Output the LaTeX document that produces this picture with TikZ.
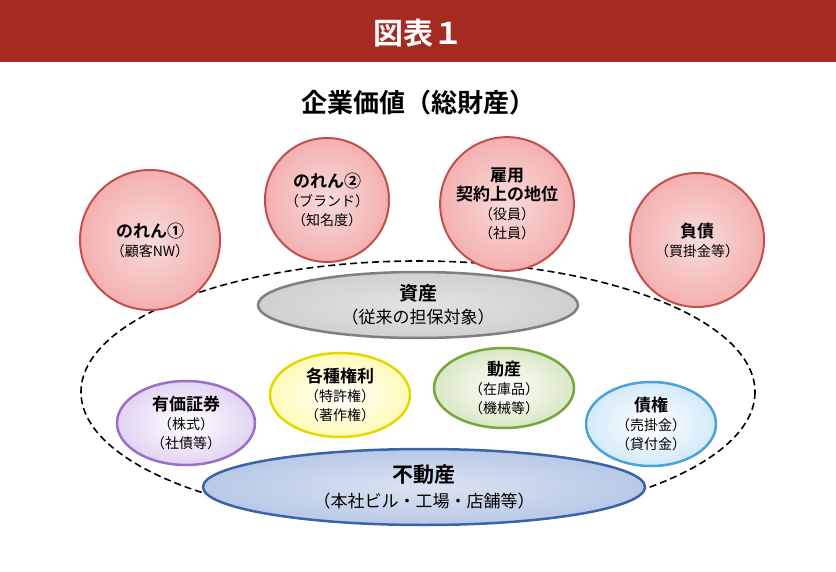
\documentclass[tikz,border=0pt]{standalone}
\usepackage{fontspec}
\setmainfont{Noto Sans CJK JP}
\newfontfamily\bfj{Noto Sans CJK JP Bold}
\begin{document}
\begin{tikzpicture}[x=1pt,y=-1pt]
\definecolor{hdr}{HTML}{A52A22}
\definecolor{redb}{HTML}{C0504D}\definecolor{redf}{HTML}{F2C4C3}
\definecolor{grayb}{HTML}{7F7F7F}\definecolor{grayf}{HTML}{D0D0D0}
\definecolor{yelb}{HTML}{E5D800}\definecolor{yelf}{HTML}{FFFAB8}
\definecolor{grnb}{HTML}{77A63C}\definecolor{grnf}{HTML}{D8E8C4}
\definecolor{purb}{HTML}{9B6FC8}\definecolor{purf}{HTML}{E2D4F2}
\definecolor{blub}{HTML}{4BA3DC}\definecolor{bluf}{HTML}{D3EAF8}
\definecolor{dblb}{HTML}{3A64A8}\definecolor{dblf}{HTML}{B8C8E6}
\tikzset{
 circ/.style={circle,draw=redb,line width=2pt,inner color=white!40!redf,outer color=redf!90!red,minimum size=#1,align=center,font=\fontsize{14}{19}\selectfont},
 hb/.style={font=\bfj\fontsize{17}{22}\selectfont},
 lbl/.style={align=center,font=\fontsize{14}{19}\selectfont},
}
\newcommand\hd[1]{{\bfj\fontsize{17}{22}\selectfont #1}}
\useasboundingbox (0,0) rectangle (836,572);
\fill[hdr] (0,0) rectangle (836,62);
\node[text=white,font=\bfj\fontsize{30}{34}\selectfont] (h) at (418,33) {図表１};
\node[font=\bfj\fontsize{26}{30}\selectfont] (t) at (418,103) {企業価値（総財産）};
\draw[dash pattern=on 7pt off 4pt,line width=1.6pt] (418,392) ellipse [x radius=337,y radius=131];
\node[circ=140pt] (n1) at (150,240) {\hd{のれん①}\\（顧客NW）};
\node[circ=124pt] (n2) at (327,200) {\hd{のれん②}\\（ブランド）\\（知名度）};
\node[circ=128pt] (n3) at (507,204) {\hd{雇用}\\\hd{契約上の地位}\\（役員）\\（社員）};
\node[circ=134pt] (n4) at (697,240) {\hd{負債}\\（買掛金等）};
\path[draw=grayb,line width=2.5pt,inner color=grayf!60!white,outer color=grayf] (418,305) ellipse [x radius=160,y radius=33];
\node[lbl,font=\fontsize{17}{23}\selectfont] (a) at (418,305) {{\bfj\fontsize{19}{23}\selectfont 資産}\\（従来の担保対象）};
\path[draw=yelb,line width=2.5pt,inner color=white,outer color=yelf] (340,395) ellipse [x radius=70,y radius=42];
\node[lbl] (r) at (340,395) {\hd{各種権利}\\（特許権）\\（著作権）};
\path[draw=grnb,line width=2.5pt,inner color=white,outer color=grnf] (504,388) ellipse [x radius=70,y radius=40];
\node[lbl] (m) at (504,388) {\hd{動産}\\（在庫品）\\（機械等）};
\path[draw=purb,line width=2.5pt,inner color=white,outer color=purf] (186,423) ellipse [x radius=69,y radius=42];
\node[lbl] (s) at (186,423) {\hd{有価証券}\\（株式）\\（社債等）};
\path[draw=blub,line width=2.5pt,inner color=white,outer color=bluf] (651,424) ellipse [x radius=65,y radius=42];
\node[lbl] (c) at (651,424) {\hd{債権}\\（売掛金）\\（貸付金）};
\path[draw=dblb,line width=2.5pt,inner color=dblf!50!white,outer color=dblf] (424,487) ellipse [x radius=221,y radius=38];
\node[lbl,font=\fontsize{17}{25}\selectfont] (f) at (424,487) {{\bfj\fontsize{21}{25}\selectfont 不動産}\\（本社ビル・工場・店舗等）};
\end{tikzpicture}
\end{document}
